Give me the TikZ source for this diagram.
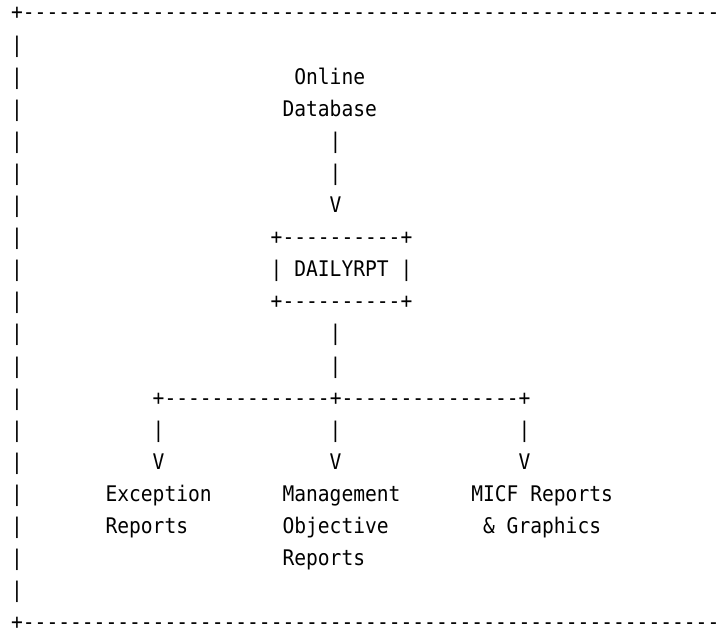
\documentclass[tikz,border=0pt]{standalone}
\usepackage{fontspec}
\setmonofont[FakeStretch=0.912]{DejaVu Sans Mono}
\newcommand{\colx}[1]{\fpeval{11.1+11.8*(#1)}pt}
\newcommand{\rowy}[1]{\fpeval{-(19.9+32.1*(#1))}pt}
\tikzset{
  cell/.style={anchor=base west, inner sep=0pt, outer sep=0pt,
    font=\ttfamily\fontsize{21.5pt}{32.1pt}\selectfont, text=black}
}
\begin{document}
\begin{tikzpicture}
\useasboundingbox (0pt,0pt) rectangle (722pt,-627pt);
\clip (0pt,0pt) rectangle (722pt,-627pt);
\fill[white] (0pt,0pt) rectangle (722pt,-627pt);
% frame
\node[cell] (topborder) at (\colx{0},\rowy{0}) {+-----------------------------------------------------------};
\foreach \r in {1,...,18} {
  \node[cell] (bar\r) at (\colx{0},\rowy{\r}) {|};
}
\node[cell] (bottomborder) at (\colx{0},\rowy{19}) {+-----------------------------------------------------------};
% top source
\node[cell] (online) at (\colx{24},\rowy{2}) {Online};
\node[cell] (database) at (\colx{23},\rowy{3}) {Database};
\node[cell] (a1) at (\colx{27},\rowy{4}) {|};
\node[cell] (a2) at (\colx{27},\rowy{5}) {|};
\node[cell] (a3) at (\colx{27},\rowy{6}) {V};
% box
\node[cell] (boxtop) at (\colx{22},\rowy{7}) {+----------+};
\node[cell] (dailyrpt) at (\colx{22},\rowy{8}) {| DAILYRPT |};
\node[cell] (boxbot) at (\colx{22},\rowy{9}) {+----------+};
\node[cell] (b1) at (\colx{27},\rowy{10}) {|};
\node[cell] (b2) at (\colx{27},\rowy{11}) {|};
% split
\node[cell] (split) at (\colx{12},\rowy{12}) {+--------------+---------------+};
\node[cell] (l1) at (\colx{12},\rowy{13}) {|};
\node[cell] (m1) at (\colx{27},\rowy{13}) {|};
\node[cell] (r1) at (\colx{43},\rowy{13}) {|};
\node[cell] (l2) at (\colx{12},\rowy{14}) {V};
\node[cell] (m2) at (\colx{27},\rowy{14}) {V};
\node[cell] (r2) at (\colx{43},\rowy{14}) {V};
% outputs
\node[cell] (exc1) at (\colx{8},\rowy{15}) {Exception};
\node[cell] (exc2) at (\colx{8},\rowy{16}) {Reports};
\node[cell] (mgt1) at (\colx{23},\rowy{15}) {Management};
\node[cell] (mgt2) at (\colx{23},\rowy{16}) {Objective};
\node[cell] (mgt3) at (\colx{23},\rowy{17}) {Reports};
\node[cell] (micf1) at (\colx{39},\rowy{15}) {MICF Reports};
\node[cell] (micf2) at (\colx{40},\rowy{16}) {\& Graphics};
\end{tikzpicture}
\end{document}
